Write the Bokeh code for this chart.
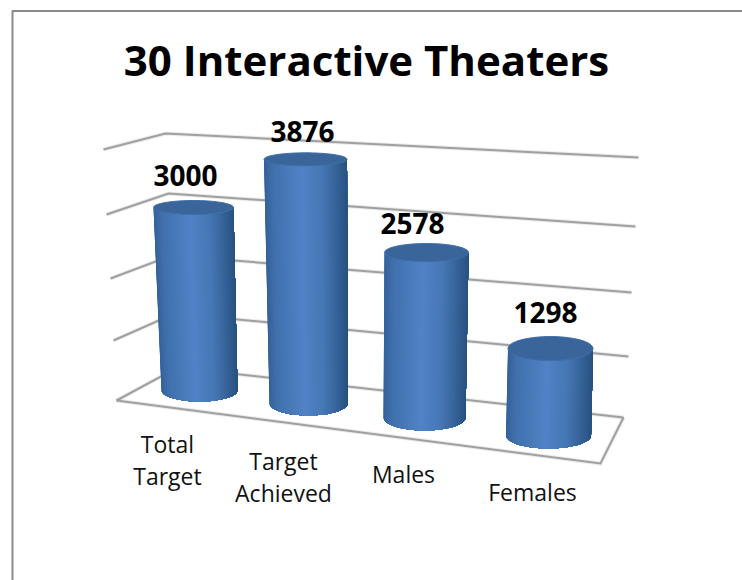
import numpy as np
from bokeh.plotting import figure
from bokeh.embed import file_html
from bokeh.resources import INLINE
from bokeh.core.properties import value
from bokeh.models import Range1d

TITLE = "30 Interactive Theaters"
categories = ["Total\nTarget", "Target\nAchieved", "Males", "Females"]
values = [3000, 3876, 2578, 1298]
levels = [0, 1000, 2000, 3000, 4000]

# perspective geometry of the 3-D scene (screen pixels)
wall_left_x = [116, 113, 110, 106, 103]
wall_left_y = [400, 340, 278, 214, 149]
corner_x = [177, 174, 171, 168, 165]
corner_y = [367, 313, 255, 193, 133]
wall_right_x = [623, 628, 631, 635, 638]
wall_right_y = [417, 356, 292, 226, 157]
floor_front_x = [116, 600, 623]
floor_front_y = [400, 463, 417]

base_x = [199, 308, 424, 548]
base_y = [390, 403, 417, 435]
px_per_unit = [0.0610, 0.0630, 0.0640, 0.0670]
lean_per_unit = [-0.0020, -0.00077, 0.00078, 0.00154]
top_rx = [40, 41.5, 42, 42.5]
base_rx = [38, 39, 41, 42.5]
top_ry = [7, 6.5, 9, 12]
base_ry = [11, 12, 13, 13]
label_dx = [-8, -3, -14, -5]
label_dy = [-32, -28, -29, -36]
cat_x = [167, 283, 403, 532]
cat_y = [443, 460, 473, 491]
line_gap = 32

shade_pos = [0.0, 0.1, 0.45, 0.7, 0.9, 1.0]
shade_rgb = [(52, 98, 154), (64, 112, 172), (80, 131, 198), (70, 119, 181), (50, 95, 146), (40, 82, 128)]


def shade(u):
    return "#%02x%02x%02x" % tuple(int(round(np.interp(u, shade_pos, [c[i] for c in shade_rgb]))) for i in range(3))


p = figure(width=742, height=580, output_backend="svg", toolbar_location=None,
           x_range=Range1d(0, 742), y_range=Range1d(580, 0), min_border=0)
p.axis.visible = False
p.grid.visible = False
p.outline_line_color = None
p.background_fill_color = "white"
p.border_fill_color = "white"

# chart border (only left and top fall inside the crop)
p.line([12, 12, 742], [580, 10.5, 10.5], line_color="#8a8a8a", line_width=2)

# walls + floor
xs, ys = [], []
for k in range(len(levels)):
    xs.append([wall_left_x[k], corner_x[k], wall_right_x[k]])
    ys.append([wall_left_y[k], corner_y[k], wall_right_y[k]])
xs.append(floor_front_x)
ys.append(floor_front_y)
p.multi_line(xs, ys, line_color="#a0a0a0", line_width=4, line_alpha=0.22, line_join="miter")
p.multi_line(xs, ys, line_color="#a0a0a0", line_width=2, line_join="miter")

# cylinders: painted left to right, each slice reaching the right edge, so no seams show
thetas = np.linspace(-np.pi / 2, np.pi / 2, 61)
t = np.linspace(0, 2 * np.pi, 73)
for i, v in enumerate(values):
    tx = base_x[i] + lean_per_unit[i] * v
    ty = base_y[i] - px_per_unit[i] * v
    sx, sy, colors = [], [], []
    for a, b in zip(thetas[:-1], thetas[1:]):
        arc = thetas[thetas >= a]
        sx.append(list(tx + top_rx[i] * np.sin(arc)) + list(base_x[i] + base_rx[i] * np.sin(arc[::-1])))
        sy.append(list(ty + top_ry[i] * np.cos(arc)) + list(base_y[i] + base_ry[i] * np.cos(arc[::-1])))
        colors.append(shade((np.sin((a + b) / 2) + 1) / 2))
    p.patches(sx, sy, fill_color=colors, line_color=None)
    p.patch(tx + top_rx[i] * np.cos(t), ty + top_ry[i] * np.sin(t),
            fill_color="#39659b", line_color="#3f6ea8", line_width=1)
    p.text([tx + label_dx[i]], [ty + label_dy[i]], text=[str(v)], text_font=value("Open Sans"),
           text_font_style="bold", text_font_size="28px", text_color="black",
           text_align="center", text_baseline="middle")

# title
p.text([366], [59], text=[TITLE], text_font=value("Open Sans"), text_font_style="bold",
       text_font_size="42px", text_color="black", text_align="center", text_baseline="middle")

# category labels
for i, c in enumerate(categories):
    for j, part in enumerate(c.split("\n")):
        p.text([cat_x[i]], [cat_y[i] + j * line_gap], text=[part], text_font=value("Open Sans"),
               text_font_size="23px", text_color="#111111", text_align="center", text_baseline="middle")

open("out.html", "w").write(file_html(p, INLINE))
